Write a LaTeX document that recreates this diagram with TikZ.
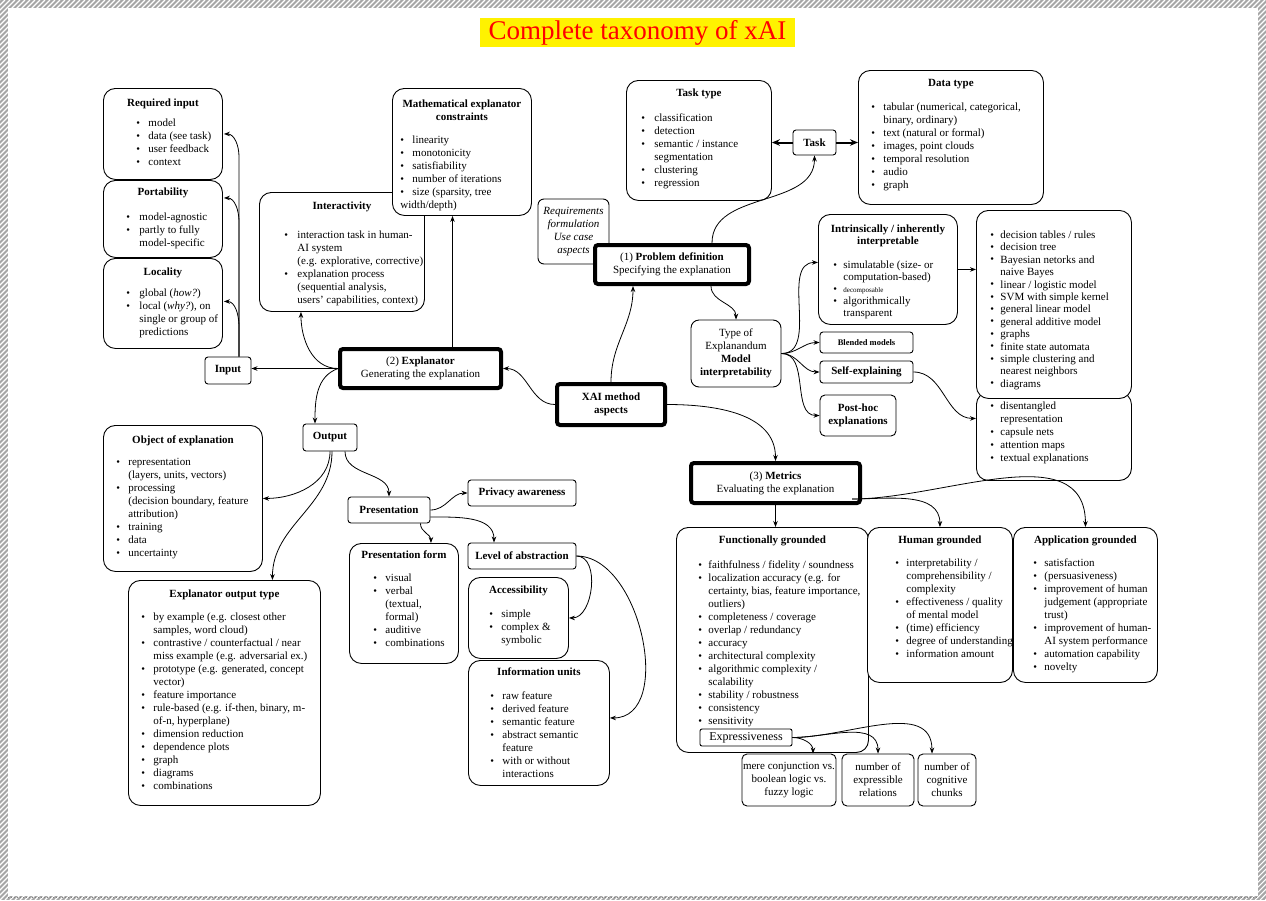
\documentclass[tikz,border=0pt]{standalone}
\usepackage{fontspec}
\setmainfont{Liberation Serif}
\usetikzlibrary{calc,arrows.meta}

% ---- list boxes: fixed-size parbox, title line(s), bullet items ----
\newlength\bulx
\newlength\gapx
\hfuzz=200pt \hbadness=10000 \vbadness=10000
\newcommand{\nf}{\fontsize{11}{13}\selectfont}
\newcommand{\bxc}[4]{\parbox[t][#2pt][t]{#1pt}{\vspace*{#3pt}\baselineskip=13pt\lineskiplimit=-20pt\relax #4}}
\newcommand{\bl}[2]{\setlength\bulx{#1pt}\setlength\gapx{#2pt}}
\newcommand{\ttl}[1]{\par\noindent\makebox[\linewidth]{\rule{0pt}{8pt}\bfseries #1}}
\newcommand{\bul}{\raisebox{0.3pt}{\fontsize{10.5}{10}\selectfont\textbullet}}
\newcommand{\itm}[1]{\par\noindent\rule{0pt}{8pt}\hspace*{\bulx}\makebox[\gapx][l]{\bul}\mbox{#1}}
\newcommand{\ctn}[1]{\par\noindent\rule{0pt}{8pt}\hspace*{\dimexpr\bulx+\gapx\relax}\mbox{#1}}
\newcommand{\ctb}[1]{\par\noindent\rule{0pt}{8pt}\hspace*{\bulx}\mbox{#1}}
\newcommand{\gp}[1]{\par\vspace{#1pt}}

\begin{document}
\begin{tikzpicture}[x=1pt,y=-1pt,font=\nf,
  box/.style={draw=black, fill=white, line width=0.9pt, rounded corners=12pt, inner sep=0pt, anchor=north west},
  sbox/.style={draw=black, fill=white, line width=0.9pt, rounded corners=3pt, inner sep=0pt, align=center},
  tbox/.style={draw=black, fill=white, line width=4pt, rounded corners=3pt, inner sep=0pt, align=center},
  arr/.style={-{Stealth[length=6pt,width=4.5pt]}, line width=0.8pt},
  arrt/.style={-{Stealth[length=8pt,width=6.5pt]}, line width=2pt}]

\useasboundingbox (0,0) rectangle (1266,900);

% ---- hatched frame ----
\begin{scope}
  \clip (0,0) rectangle (1266,900);
  \fill[gray!70] (0,0) rectangle (1266,900);
  \foreach \i in {-900,-895,...,1266} \draw[white,line width=1.1pt] (\i,900) -- ++(900,-900);
\end{scope}
\fill[white] (8,8) rectangle (1258,896);
\draw[gray, dotted, line width=1pt] (8,897.5) -- (1258,897.5);

% ---- title ----
\node[fill=yellow, text=red, font=\fontsize{27}{30}\selectfont, minimum width=315, minimum height=29, inner sep=0pt] (title) at (637.5,32.5) {Complete taxonomy of xAI};

% ---- input side ----
\node[box] (reqin) at (103,88) {\bxc{119}{91}{10}{\bl{33}{12}%
  \ttl{Required input}\gp{7}%
  \itm{model}\itm{data (see task)}\itm{user feedback}\itm{context}}};
\node[box] (portab) at (103,180) {\bxc{119}{77}{7}{\bl{23}{13}%
  \ttl{Portability}\gp{12}%
  \itm{model-agnostic}\itm{partly to fully}\ctn{model-specific}}};
\node[box] (local) at (103,258) {\bxc{119}{90}{9}{\bl{23}{13}%
  \ttl{Locality}\gp{8}%
  \itm{global (\textit{how?})}\itm{local (\textit{why?}), on}\ctn{single or group of}\ctn{predictions}}};
\node[sbox, minimum width=46, minimum height=27, font=\nf\bfseries] (inp) at (228,370.5) {Input};

% ---- explanator side ----
\node[box] (intact) at (259,192) {\bxc{165}{119}{9}{\bl{25}{13}%
  \ttl{Interactivity}\gp{16}%
  \itm{interaction task in human-}\ctn{AI system}\ctn{(e.g. explorative, corrective)}%
  \itm{explanation process}\ctn{(sequential analysis,}\ctn{users' capabilities, context)}}};
\node[box] (mathc) at (392,88) {\bxc{139}{127}{11}{\bl{8}{12}%
  \ttl{Mathematical explanator}\ttl{constraints}\gp{10}%
  \itm{linearity}\itm{monotonicity}\itm{satisfiability}\itm{number of iterations}%
  \itm{size (sparsity, tree}\ctb{width/depth)}}};
\node[tbox, minimum width=161, minimum height=39] (explanator) at (420.5,368.5) {(2) \textbf{Explanator}\\Generating the explanation};

% ---- problem definition side ----
\node[box] (tasktype) at (626,80) {\bxc{145}{120}{8}{\bl{15}{13}%
  \ttl{Task type}\gp{12}%
  \itm{classification}\itm{detection}\itm{semantic / instance}\ctn{segmentation}%
  \itm{clustering}\itm{regression}}};
\node[sbox, minimum width=43, minimum height=25, font=\nf\bfseries] (task) at (814.5,142.5) {Task};
\node[box] (datatype) at (858,70) {\bxc{185}{134}{8}{\bl{13}{12}%
  \ttl{Data type}\gp{11}%
  \itm{tabular (numerical, categorical,}\ctn{binary, ordinary)}\itm{text (natural or formal)}%
  \itm{images, point clouds}\itm{temporal resolution}\itm{audio}\itm{graph}}};
\node[sbox, rounded corners=6pt, minimum width=71, minimum height=65, font=\nf\itshape] (reqf) at (573.5,231.5) {Requirements\\formulation\\Use case\\aspects};
\node[tbox, minimum width=154, minimum height=39] (probdef) at (672,264.5) {(1) \textbf{Problem definition}\\Specifying the explanation};
\node[tbox, minimum width=108, minimum height=41, font=\nf\bfseries] (xai) at (611,404.5) {XAI method\\aspects};

% ---- model interpretability ----
\node[sbox, rounded corners=8pt, minimum width=90, minimum height=67] (typeexp) at (736,353.5) {Type of\\Explanandum\\\textbf{Model}\\\textbf{interpretability}};
\node[box] (intrin) at (818,214) {\bxc{139}{110}{10}{\baselineskip=12pt\bl{15}{10}%
  \ttl{Intrinsically / inherently}\ttl{interpretable}\gp{12}%
  \itm{simulatable (size- or}\ctn{computation-based)}%
  \itm{{\fontsize{7}{8}\selectfont decomposable}}\itm{algorithmically}\ctn{transparent}}};
\node[sbox, minimum width=93, minimum height=21, font=\fontsize{8.5}{10}\selectfont\bfseries] (blended) at (866.5,342.5) {Blended models};
\node[sbox, minimum width=93, minimum height=22, font=\nf\bfseries] (selfexp) at (866.5,372) {Self-explaining};
\node[sbox, rounded corners=5pt, minimum width=76, minimum height=41, font=\nf\bfseries] (posthoc) at (858,415.5) {Post-hoc\\explanations};
\node[box] (rlist2) at (976,392) {\bxc{155}{88}{9}{\bl{14}{10}%
  \itm{disentangled}\ctn{representation}\itm{capsule nets}\itm{attention maps}\itm{textual explanations}}};
\node[box] (rlist) at (976,210) {\bxc{155}{188}{20}{\baselineskip=12.4pt\bl{14}{10}%
  \itm{decision tables / rules}\itm{decision tree}\itm{Bayesian netorks and}\ctn{naive Bayes}%
  \itm{linear / logistic model}\itm{SVM with simple kernel}\itm{general linear model}%
  \itm{general additive model}\itm{graphs}\itm{finite state automata}%
  \itm{simple clustering and}\ctn{nearest neighbors}\itm{diagrams}}};

% ---- output side ----
\node[sbox, minimum width=54, minimum height=27, font=\nf\bfseries] (outp) at (330,437.5) {Output};
\node[box] (objexp) at (103,425) {\bxc{159}{146}{10}{\bl{13}{12}%
  \ttl{Object of explanation}\gp{9}%
  \itm{representation}\ctn{(layers, units, vectors)}\itm{processing}%
  \ctn{(decision boundary, feature}\ctn{attribution)}\itm{training}\itm{data}\itm{uncertainty}}};
\node[box] (outtype) at (128,580) {\bxc{192}{225}{9}{\bl{13}{12}%
  \ttl{Explanator output type}\gp{10}%
  \itm{by example (e.g. closest other}\ctn{samples, word cloud)}%
  \itm{contrastive / counterfactual / near}\ctn{miss example (e.g. adversarial ex.)}%
  \itm{prototype (e.g. generated, concept}\ctn{vector)}\itm{feature importance}%
  \itm{rule-based (e.g. if-then, binary, m-}\ctn{of-n, hyperplane)}%
  \itm{dimension reduction}\itm{dependence plots}\itm{graph}\itm{diagrams}\itm{combinations}}};
\node[sbox, minimum width=82, minimum height=26, font=\nf\bfseries] (pres) at (389,510) {Presentation};
\node[sbox, minimum width=108, minimum height=26, font=\nf\bfseries] (privacy) at (522,493) {Privacy awareness};
\node[box] (presform) at (349,543) {\bxc{109}{120}{7}{\bl{24}{12}%
  \ttl{Presentation form}\gp{10}%
  \itm{visual}\itm{verbal}\ctn{(textual,}\ctn{formal)}\itm{auditive}\itm{combinations}}};
\node[sbox, minimum width=108, minimum height=26, font=\nf\bfseries] (levabs) at (522,556) {Level of abstraction};
\node[box] (access) at (468,577) {\bxc{100}{81}{8}{\bl{21}{12}%
  \ttl{Accessibility}\gp{11}%
  \itm{simple}\itm{complex \&}\ctn{symbolic}}};
\node[box] (infounits) at (468,660) {\bxc{141}{125}{7}{\bl{22}{12}%
  \ttl{Information units}\gp{11}%
  \itm{raw feature}\itm{derived feature}\itm{semantic feature}\itm{abstract semantic}\ctn{feature}%
  \itm{with or without}\ctn{interactions}}};

% ---- metrics side ----
\node[tbox, minimum width=169, minimum height=40] (metrics) at (775.5,483) {(3) \textbf{Metrics}\\Evaluating the explanation};
\node[box] (funcg) at (676,527) {\bxc{192}{225}{8}{\bl{22}{10}%
  \ttl{Functionally grounded}\gp{12}%
  \itm{faithfulness / fidelity / soundness}\itm{localization accuracy (e.g. for}%
  \ctn{certainty, bias, feature importance,}\ctn{outliers)}\itm{completeness / coverage}%
  \itm{overlap / redundancy}\itm{accuracy}\itm{architectural complexity}%
  \itm{algorithmic complexity /}\ctn{scalability}\itm{stability / robustness}%
  \itm{consistency}\itm{sensitivity}}};
\node[box] (humang) at (867,527) {\bxc{145}{155}{8}{\bl{28}{11}%
  \ttl{Human grounded}\gp{10}%
  \itm{interpretability /}\ctn{comprehensibility /}\ctn{complexity}%
  \itm{effectiveness / quality}\ctn{of mental model}\itm{(time) efficiency}%
  \itm{degree of understanding}\itm{information amount}}};
\node[box] (appg) at (1013,527) {\bxc{144}{155}{8}{\bl{20}{11}%
  \ttl{Application grounded}\gp{10}%
  \itm{satisfaction}\itm{(persuasiveness)}\itm{improvement of human}%
  \ctn{judgement (appropriate}\ctn{trust)}\itm{improvement of human-}%
  \ctn{AI system performance}\itm{automation capability}\itm{novelty}}};
\node[sbox, rounded corners=2pt, minimum width=92, minimum height=17, font=\fontsize{12}{13}\selectfont] (expr) at (746,737.5) {Expressiveness};
\node[sbox, rounded corners=5pt, minimum width=94, minimum height=52] (mere) at (789,780) {mere conjunction vs.\\boolean logic vs.\\fuzzy logic};
\node[sbox, rounded corners=5pt, minimum width=72, minimum height=52] (nexpr) at (878,780) {number of\\expressible\\relations};
\node[sbox, rounded corners=5pt, minimum width=58, minimum height=52] (nchunk) at (947,780) {number of\\cognitive\\chunks};

% ---- connectors ----
% input
\coordinate (ivl) at ($(inp.north)+(11,0)$);
\draw[arr] (ivl) -- ++(0,-200) to[out=90,in=0] ($(reqin.east)+(1,0)$);
\draw[arr] (ivl) -- ++(0,-135) to[out=90,in=0] ($(portab.east)+(1,-21)$);
\draw[arr] (ivl) -- ++(0,-30) to[out=90,in=0] ($(local.east)+(1,-2)$);
% explanator
\draw[arr] (explanator.west) -- (explanator.west -| inp.east);
\draw[arr] (explanator.west) to[out=180,in=-90] ($(intact.south)+(-41,0)$);
\coordinate (mtop) at ($(explanator.north)+(32,0)$);
\draw[arr] (mtop) -- (mtop |- mathc.south);
\draw[arr] (explanator.west) to[out=200,in=90] ($(outp.north)+(-15,0)$);
% xai method aspects
\draw[arr] (xai.west) to[out=180,in=0] (explanator.east);
\draw[arr] (xai.north) to[out=90,in=-90] ($(probdef.south)+(-39,0)$);
\draw[arr] (xai.east) to[out=0,in=90] (metrics.north);
% problem definition
\draw[arr] ($(probdef.north)+(40,0)$) to[out=90,in=-90] (task.south);
\draw[arr] ($(probdef.south)+(39,0)$) to[out=-90,in=90] (typeexp.north);
\draw[arrt] (task.west) -- (task.west -| tasktype.east);
\draw[arrt] (task.east) -- (task.east -| datatype.west);
% type of explanandum
\draw[arr] (typeexp.east) to[out=0,in=180] ($(intrin.west)+(0,-7)$);
\draw[arr] (typeexp.east) to[out=0,in=180] (blended.west);
\draw[arr] (typeexp.east) to[out=0,in=180] (selfexp.west);
\draw[arr] (typeexp.east) to[out=0,in=180] (posthoc.west);
\draw[arr] (intrin.east) -- (intrin.east -| rlist.west);
\draw[arr] (selfexp.east) to[out=0,in=180] ($(rlist2.west)+(0,-18)$);
% metrics
\draw[arr] (metrics.south) -- (metrics.south |- funcg.north);
\draw[arr] ($(metrics.south east)+(-10,-6)$) to[out=0,in=90] (humang.north);
\draw[arr] ($(metrics.south east)+(-10,-6)$) to[out=0,in=90] (appg.north);
% output
\draw[arr] (outp.south) to[out=-90,in=0] (objexp.east);
\draw[arr] ($(outp.south)+(2,0)$) to[out=-90,in=90] ($(outtype.north)+(48,0)$);
\draw[arr] ($(outp.south)+(15,0)$) to[out=-90,in=90] (pres.north);
% presentation
\draw[arr] (pres.east) to[out=0,in=180] (privacy.west);
\draw[arr] ($(pres.south east)+(-10,0)$) to[out=-90,in=90] ($(presform.north)+(27,0)$);
\draw[arr] ($(pres.east)+(0,7)$) to[out=0,in=90] ($(levabs.north)+(-28,0)$);
\draw[arr] (levabs.east) to[out=0,in=0] (access.east);
\draw[arr] (levabs.east) to[out=0,in=0] ($(infounits.east)+(0,-5)$);
% expressiveness
\draw[arr] (expr.east) to[out=0,in=90] ($(mere.north)+(24,0)$);
\draw[arr] (expr.east) to[out=0,in=90] (nexpr.north);
\draw[arr] (expr.east) to[out=0,in=90] ($(nchunk.north)+(-15,0)$);
\end{tikzpicture}
\end{document}
